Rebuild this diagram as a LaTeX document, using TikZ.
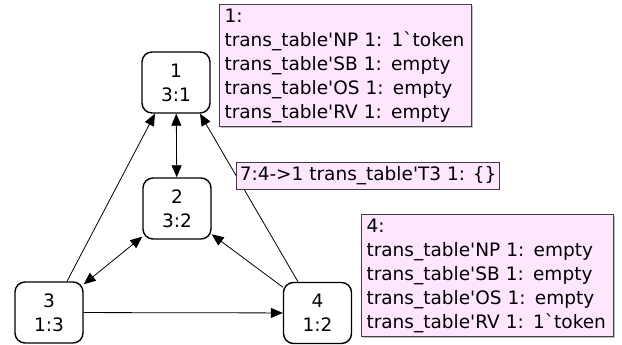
\documentclass[tikz,border=0pt]{standalone}
\usepackage{fontspec}
\newfontfamily\viewfont{DejaVu Sans}
\usepackage{tikz}
\usetikzlibrary{arrows.meta,positioning,shadows}
\definecolor{notepink}{RGB}{255,230,255}

\begin{document}
\begin{tikzpicture}[
    x=1pt, y=1pt,
    state/.style={rectangle, rounded corners=10pt, draw=black, line width=1.4pt, fill=white, minimum width=68pt, minimum height=61pt, align=center, inner sep=0pt, font=\viewfont\fontsize{18.5}{24}\selectfont},
    note/.style={rectangle, draw=black!75, line width=1pt, fill=notepink, text width=242pt, align=left, minimum height=122pt, inner xsep=5pt, anchor=north west, drop shadow={shadow xshift=1.2pt, shadow yshift=-1.2pt, fill=black!50}, font=\viewfont\fontsize{18.5}{24}\selectfont},
    edgelabel/.style={rectangle, draw=black!75, line width=1pt, fill=notepink, inner xsep=3pt, inner ysep=4pt, anchor=west, font=\viewfont\fontsize{18.5}{24}\selectfont},
    arrow/.style={-{Triangle[length=12pt, width=10pt]}, line width=0.8pt},
    biarrow/.style={{Triangle[length=12pt, width=10pt]}-{Triangle[length=12pt, width=10pt]}, line width=0.8pt},
]
\useasboundingbox (0,0) rectangle (622,345);

% States
\node[state] (s1) at (176,262.5) {1\\3:1};
\node[state] (s2) at (177,136.5) {2\\3:2};
\node[state] (s3) at (49,32.5) {3\\1:3};
\node[state] (s4) at (317.5,32) {4\\1:2};

% State descriptors
\node[note] (info1) at (219,341) {1:\\trans\_table'NP 1: 1`token\\trans\_table'SB 1: empty\\trans\_table'OS 1: empty\\trans\_table'RV 1: empty};
\node[note] (info4) at (361,131) {4:\\trans\_table'NP 1: empty\\trans\_table'SB 1: empty\\trans\_table'OS 1: empty\\trans\_table'RV 1: 1`token};

% Arcs
\draw[biarrow] (s1) -- (s2);
\draw[biarrow] (s2) -- (s3);
\draw[arrow] (s4) -- (s2);
\draw[arrow] (s3) -- (s4);
\draw[arrow] ([xshift=18pt]s3.north) -- ([xshift=-21pt]s1.south);
\draw[arrow] ([xshift=-19.5pt]s4.north) -- node[edgelabel, pos=0.63] {7:4->1 trans\_table'T3 1: \{\}} ([xshift=24pt]s1.south);

\end{tikzpicture}
\end{document}
